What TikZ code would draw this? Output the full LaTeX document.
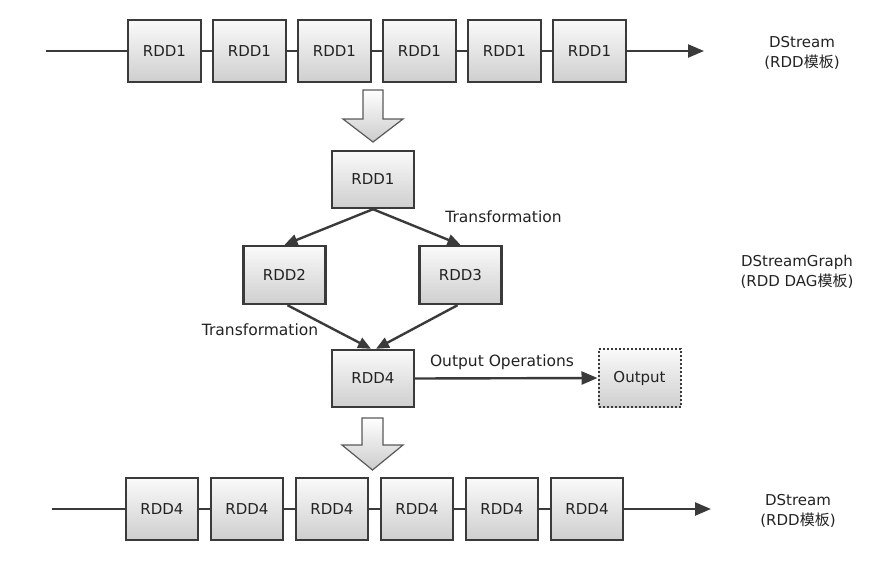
\documentclass[tikz,border=0pt]{standalone}
\usepackage{fontspec}
\setmainfont{DejaVu Sans}
\newfontfamily\cjk{Noto Sans CJK SC}
\usetikzlibrary{arrows.meta}
\definecolor{edge}{HTML}{3A3A3A}
\definecolor{txt}{HTML}{222222}
\tikzset{
  rdd/.style={draw=edge, line width=2.4pt, top color=gray!4, bottom color=gray!38,
    minimum width=73pt, minimum height=62pt, inner sep=0pt, font=\fontsize{15}{17}\selectfont, text=txt},
  dagbox/.style={rdd, minimum width=82pt, minimum height=57pt},
  outbox/.style={dagbox, dash pattern=on 2pt off 2pt, line width=2pt, draw=edge},
  link/.style={draw=edge, line width=2.4pt},
  flow/.style={link, -{Triangle[length=16pt,width=13pt]}},
  dagarrow/.style={link, -{Triangle[length=13pt,width=11pt]}},
  lbl/.style={font=\fontsize{15.5}{17}\selectfont, text=txt, inner sep=0pt},
  side/.style={font=\fontsize{15}{20}\selectfont, text=txt, align=center, inner sep=0pt},
  bigarrow/.style={draw=gray!70!black, line width=1.2pt, top color=white, bottom color=gray!40, line join=miter}
}
\begin{document}
\begin{tikzpicture}[x=1pt,y=-1pt]
\useasboundingbox (0,0) rectangle (880,570);

% top row
\coordinate (ts) at (46,51);
\coordinate (te) at (704,51);
\foreach \i in {1,...,6} {
  \node[rdd] (t\i) at ({164.5+85*(\i-1)},51) {RDD1};
}
\draw[link] (ts) -- (t1.west);
\foreach \i/\j in {1/2,2/3,3/4,4/5,5/6} { \draw[link] (t\i.east) -- (t\j.west); }
\draw[flow] (t6.east) -- (te);
\node[side] (tl) at (802,53) {DStream\\(RDD{\cjk 模板})};

% hollow arrow 1
\shade[bigarrow] (363,90) -- (383,90) -- (383,119) -- (403,119) -- (373,142) -- (343,119) -- (363,119) -- cycle;

% DAG
\node[dagbox] (m1) at (373,179.5) {RDD1};
\node[dagbox, minimum height=58pt] (m2) at (284.5,275) {RDD2};
\node[dagbox, minimum height=58pt] (m3) at (460.5,275) {RDD3};
\node[dagbox] (m4) at (373,378.5) {RDD4};
\node[outbox, minimum height=58pt] (out) at (639.5,378) {Output};

\draw[dagarrow] (m1.south) -- (m2.north);
\draw[dagarrow] (m1.south) -- (m3.north);
\draw[dagarrow] ([xshift=3pt]m2.south) -- ([xshift=-2pt]m4.north);
\draw[dagarrow] ([xshift=-3pt]m3.south) -- ([xshift=3pt]m4.north);
\draw[flow] (m4.east) -- (out.west);

\node[lbl] (tr1) at (503.5,217) {Transformation};
\node[lbl] (tr2) at (260,330) {Transformation};
\node[lbl] (oo) at (502,362) {Output Operations};
\node[side] (gl) at (797,272) {DStreamGraph\\(RDD DAG{\cjk 模板})};

% hollow arrow 2
\shade[bigarrow] (362,418) -- (383,418) -- (383,445) -- (403,445) -- (372.5,470) -- (342,445) -- (362,445) -- cycle;

% bottom row
\coordinate (bs) at (52,509);
\coordinate (be) at (711,509);
\foreach \i in {1,...,6} {
  \node[rdd, minimum width=72pt] (b\i) at ({162+85*(\i-1)},509) {RDD4};
}
\draw[link] (bs) -- (b1.west);
\foreach \i/\j in {1/2,2/3,3/4,4/5,5/6} { \draw[link] (b\i.east) -- (b\j.west); }
\draw[flow] (b6.east) -- (be);
\node[side] (bl) at (798,511) {DStream\\(RDD{\cjk 模板})};
\end{tikzpicture}
\end{document}
